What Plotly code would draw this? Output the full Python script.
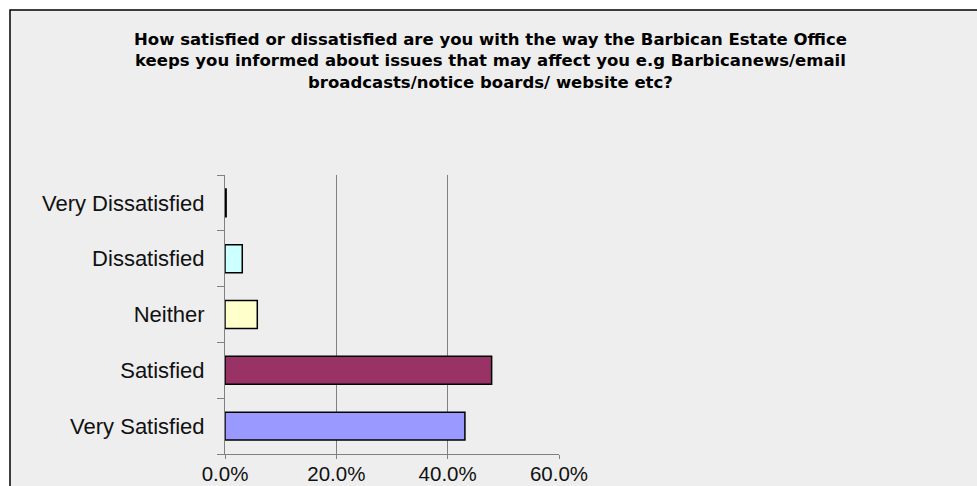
import plotly.graph_objects as go

# Survey responses (share of respondents)
categories = ["Very Dissatisfied", "Dissatisfied", "Neither", "Satisfied", "Very Satisfied"]
shares = [0.2, 3.1, 5.8, 47.9, 43.1]
bar_colors = ["#660066", "#CCFFFF", "#FFFFCC", "#993366", "#9999FF"]
x_ticks = [0, 20, 40, 60]
x_tick_labels = ["0.0%", "20.0%", "40.0%", "60.0%"]

title_text = ("How satisfied or dissatisfied are you with the way the Barbican Estate Office<br>"
              "keeps you informed about issues that may affect you e.g Barbicanews/email<br>"
              "broadcasts/notice boards/ website etc?")

W, H = 977, 486
ml, mr, mt, mb = 225, 418, 175, 32
pw, ph = W - ml - mr, H - mt - mb

def px_x(p):
    return (p - ml) / pw

def px_y(p):
    return (H - mb - p) / ph

fig = go.Figure(
    go.Bar(
        x=shares,
        y=categories,
        orientation="h",
        marker=dict(color=bar_colors, line=dict(color="black", width=1.5)),
        hoverinfo="x+y",
    )
)

font_family = "Liberation Sans, Arial, sans-serif"

fig.update_layout(
    width=W,
    height=H,
    margin=dict(l=ml, r=mr, t=mt, b=mb, autoexpand=False),
    paper_bgcolor="white",
    plot_bgcolor="rgba(0,0,0,0)",
    bargap=0.5,
    showlegend=False,
    font=dict(family=font_family, color="black"),
    shapes=[
        dict(
            type="rect", xref="paper", yref="paper", layer="below",
            x0=px_x(10), x1=px_x(W + 5), y0=px_y(H + 5), y1=px_y(10),
            fillcolor="#EEEEEE", line=dict(color="black", width=1.5),
        )
    ],
    annotations=[
        dict(
            text="<b>" + title_text + "</b>", xref="paper", yref="paper",
            x=px_x(490), y=px_y(61), xanchor="center", yanchor="middle",
            showarrow=False, align="center",
            font=dict(family="DejaVu Sans, sans-serif", size=16.5, color="black"),
        )
    ],
)

fig.update_xaxes(
    range=[0, 60],
    tickvals=x_ticks,
    ticktext=x_tick_labels,
    showgrid=True, gridcolor="#808080", gridwidth=1,
    zeroline=False,
    showline=True, linecolor="#808080", linewidth=1,
    ticks="outside", ticklen=4, tickcolor="#808080",
    ticklabelstandoff=-3,
    automargin=False,
    tickfont=dict(size=20.5, color="#111111"),
)

fig.update_yaxes(
    categoryorder="array",
    categoryarray=categories[::-1],
    showgrid=False,
    zeroline=False,
    showline=True, linecolor="#808080", linewidth=1,
    ticks="outside", ticklen=7, tickcolor="#808080",
    tickson="boundaries",
    ticklabelstandoff=15,
    automargin=False,
    tickfont=dict(size=22, color="#111111"),
)

fig.write_html("out.html")
